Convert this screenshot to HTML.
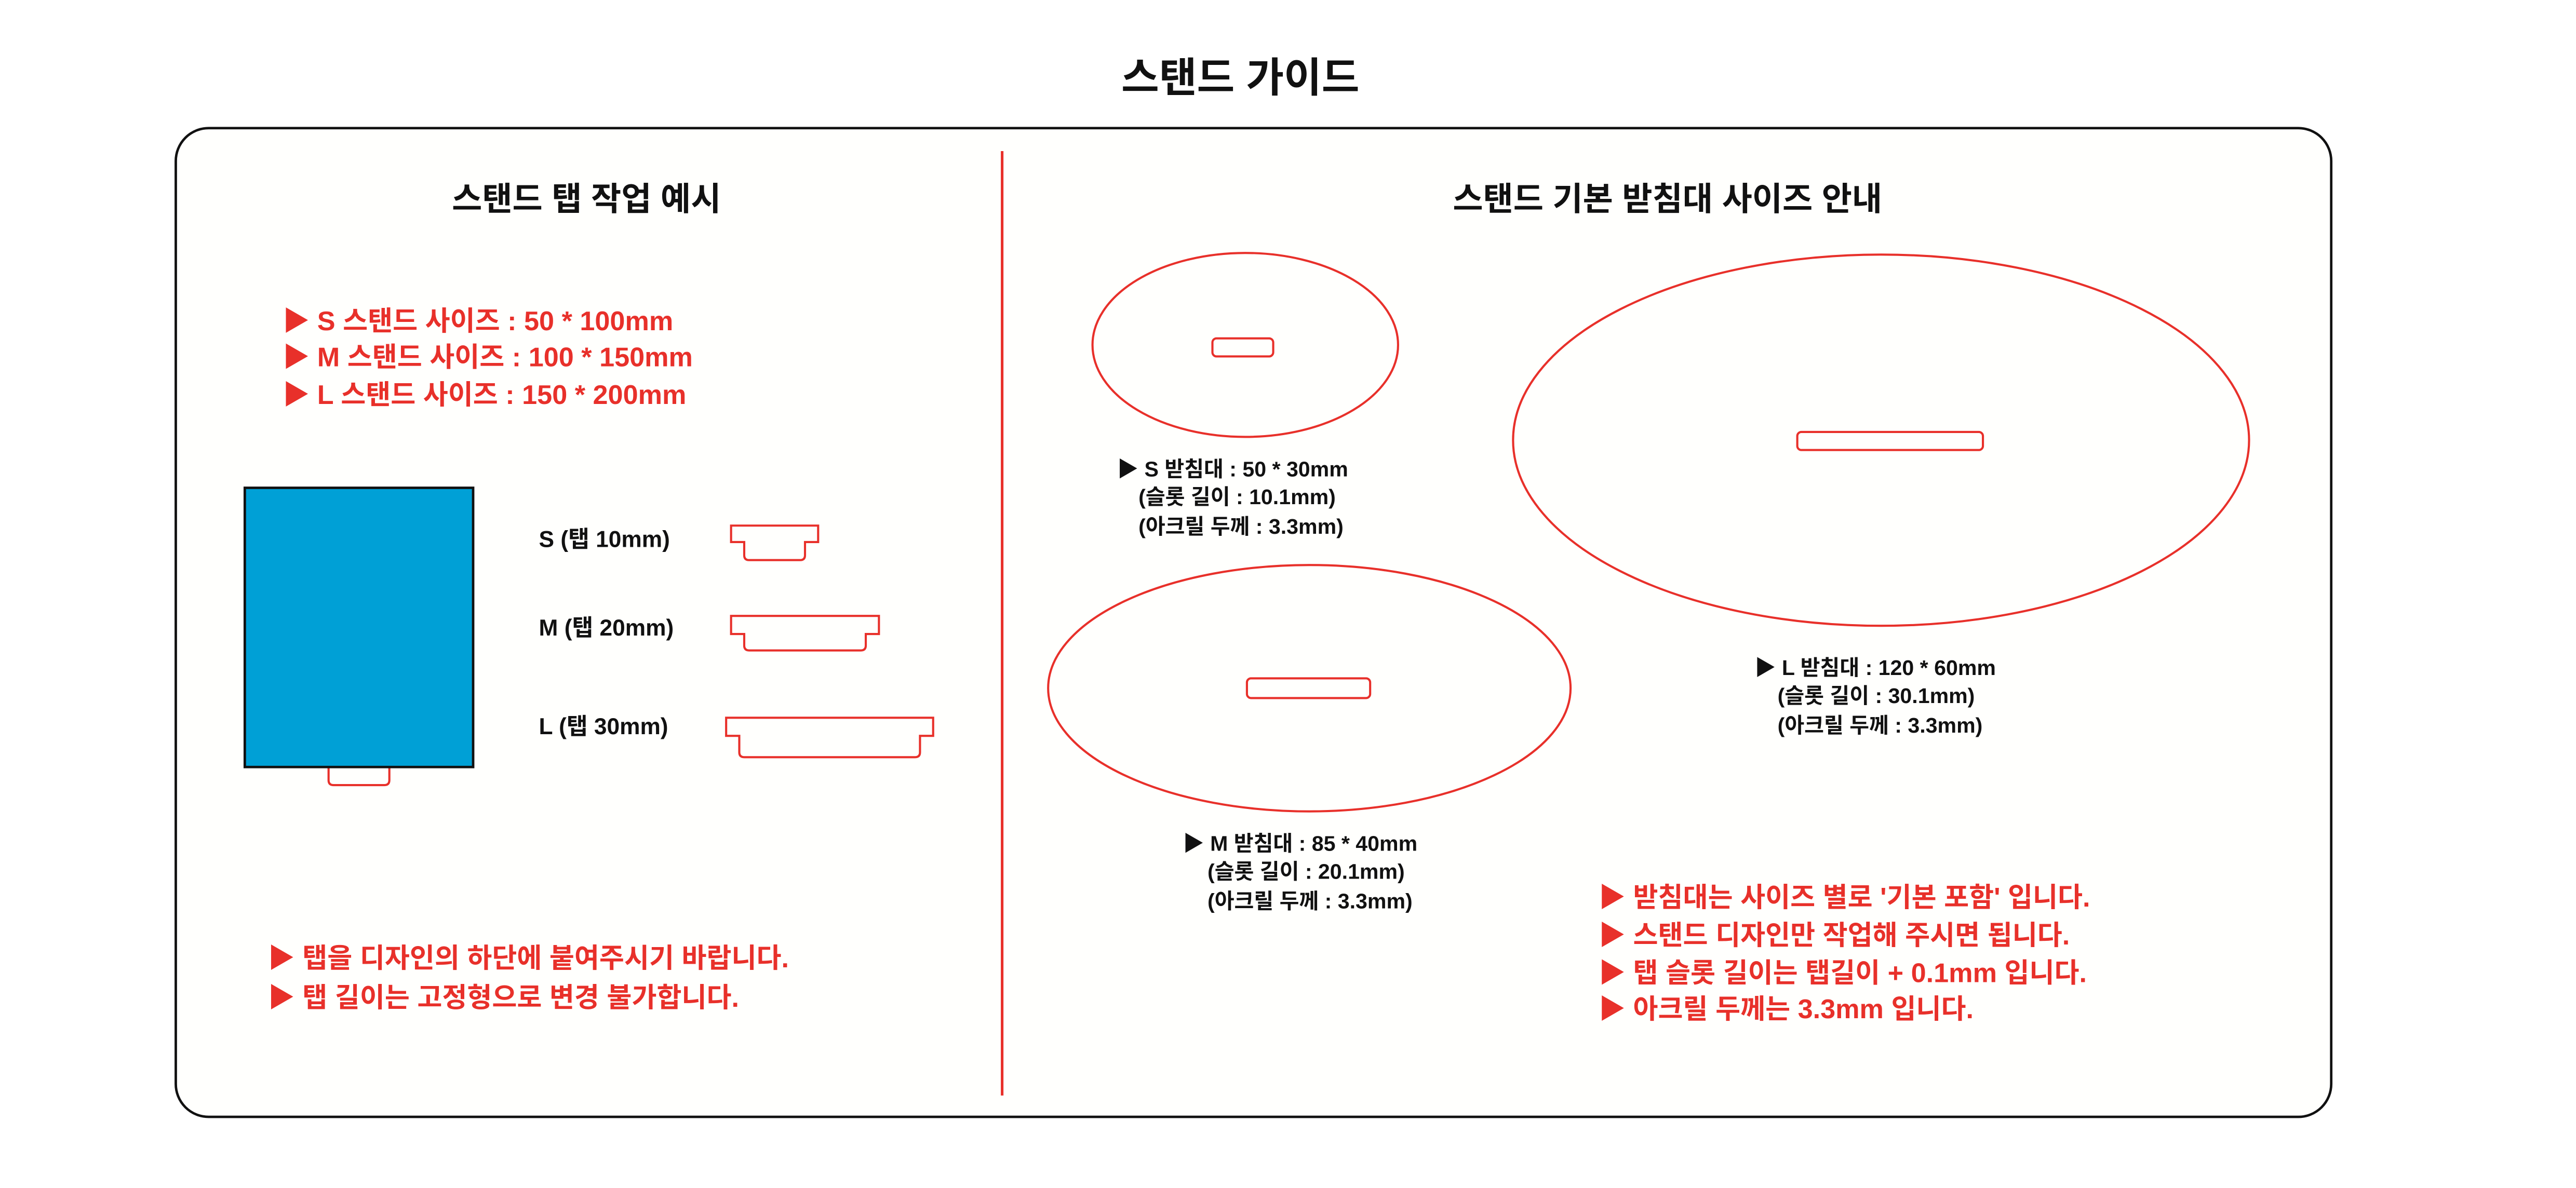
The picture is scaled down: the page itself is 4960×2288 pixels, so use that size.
<!DOCTYPE html>
<html><head><meta charset="utf-8"><style>
html,body{margin:0;padding:0;background:#fff;}
svg{display:block;}
text{font-family:"Liberation Sans","Noto Sans CJK KR",sans-serif;font-weight:bold;}
.r{fill:#e8302a;}
.k{fill:#111;}
</style></head><body>
<svg width="4960" height="2288" viewBox="0 0 1568 723.3" xmlns="http://www.w3.org/2000/svg">
<rect x="0" y="0" width="1568" height="724" fill="#fff"/>
<text x="755" y="56" font-size="25" text-anchor="middle" class="k">스탠드 가이드</text>
<rect x="107" y="78" width="1312" height="602" rx="20" fill="#fffffd" stroke="#111" stroke-width="1.5"/>
<line x1="610" y1="92" x2="610" y2="667" stroke="#e8302a" stroke-width="1.6"/>
<text x="357" y="128" font-size="20" text-anchor="middle" class="k">스탠드 탭 작업 예시</text>
<text x="1015" y="128" font-size="20" text-anchor="middle" class="k">스탠드 기본 받침대 사이즈 안내</text>
<g class="r" font-size="16.5">
<text x="172" y="201">▶ S 스탠드 사이즈 : 50 * 100mm</text>
<text x="172" y="223">▶ M 스탠드 사이즈 : 100 * 150mm</text>
<text x="172" y="246">▶ L 스탠드 사이즈 : 150 * 200mm</text>
<text x="163" y="589">▶ 탭을 디자인의 하단에 붙여주시기 바랍니다.</text>
<text x="163" y="613">▶ 탭 길이는 고정형으로 변경 불가합니다.</text>
<text x="973" y="552">▶ 받침대는 사이즈 별로 '기본 포함' 입니다.</text>
<text x="973" y="575">▶ 스탠드 디자인만 작업해 주시면 됩니다.</text>
<text x="973" y="598">▶ 탭 슬롯 길이는 탭길이 + 0.1mm 입니다.</text>
<text x="973" y="620">▶ 아크릴 두께는 3.3mm 입니다.</text>
</g>
<path d="M200 467 V475 Q200 478 203 478 H234 Q237 478 237 475 V467" fill="none" stroke="#e8302a" stroke-width="1.3"/>
<rect x="149" y="297" width="139" height="170" fill="#00a0d6" stroke="#111" stroke-width="1.5"/>
<g class="k" font-size="14">
<text x="328" y="333">S (탭 10mm)</text>
<text x="328" y="387">M (탭 20mm)</text>
<text x="328" y="447">L (탭 30mm)</text>
</g>
<g fill="none" stroke="#e8302a" stroke-width="1.3">
<path d="M445 320 H498 V330 H490 V338 Q490 341 487 341 H456 Q453 341 453 338 V330 H445 Z"/>
<path d="M445 375 H535 V386 H527 V393 Q527 396 524 396 H456 Q453 396 453 393 V386 H445 Z"/>
<path d="M442 437 H568 V448 H560 V458 Q560 461 557 461 H453 Q450 461 450 458 V448 H442 Z"/>
<ellipse cx="758" cy="210" rx="93" ry="56"/>
<rect x="738" y="206" width="37" height="11" rx="2.5"/>
<ellipse cx="1145" cy="268" rx="224" ry="113"/>
<rect x="1094" y="263" width="113" height="11" rx="2.5"/>
<ellipse cx="797" cy="419" rx="159" ry="75"/>
<rect x="759" y="413" width="75" height="12" rx="2.5"/>
</g>
<g class="k" font-size="13">
<text x="680" y="290">▶ S 받침대 : 50 * 30mm</text>
<text x="693" y="307">(슬롯 길이 : 10.1mm)</text>
<text x="693" y="325">(아크릴 두께 : 3.3mm)</text>
<text x="1068" y="411">▶ L 받침대 : 120 * 60mm</text>
<text x="1082" y="428">(슬롯 길이 : 30.1mm)</text>
<text x="1082" y="446">(아크릴 두께 : 3.3mm)</text>
<text x="720" y="518">▶ M 받침대 : 85 * 40mm</text>
<text x="735" y="535">(슬롯 길이 : 20.1mm)</text>
<text x="735" y="553">(아크릴 두께 : 3.3mm)</text>
</g>
</svg>
</body></html>
